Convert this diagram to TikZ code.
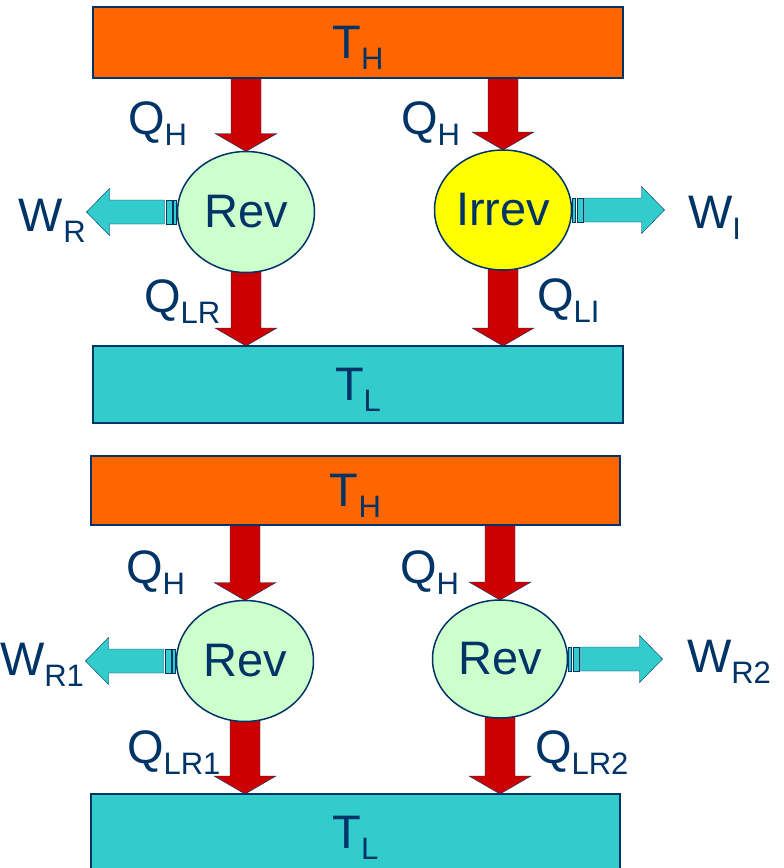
\documentclass[tikz,border=0pt]{standalone}
\usepackage{fontspec}
\setmainfont{Liberation Sans}
\usetikzlibrary{shapes.geometric,calc,backgrounds}
\definecolor{navy}{HTML}{003366}
\definecolor{hotfill}{HTML}{FF6600}
\definecolor{coldfill}{HTML}{33CCCC}
\definecolor{revfill}{HTML}{CCFFCC}
\definecolor{irrfill}{HTML}{FFFF00}
\definecolor{heatred}{HTML}{CC0000}
\newcommand\tsub[2]{#1\smash{\raisebox{-11pt}{\fontsize{31}{31}\selectfont #2}}}
\newcommand\heatflow[2]{%
  \draw[heat] ($(#1)+(-15,-8)$) -- ($(#1)+(15,-8)$) -- ($(#2)+(15,-18)$)
    -- ($(#2)+(31,-18)$) -- (#2) -- ($(#2)+(-31,-18)$) -- ($(#2)+(-15,-18)$) -- cycle;}
\newcommand\workflow[2]{%
  \draw[work, line width=1pt] ($(#1)!1pt!(#2)+(0,-12)$) rectangle ($(#1)!4pt!(#2)+(0,12)$);
  \draw[work, line width=1pt] ($(#1)!5.5pt!(#2)+(0,-12)$) rectangle ($(#1)!11.5pt!(#2)+(0,12)$);
  \draw[work] ($(#1)!13pt!(#2)+(0,-12)$) -- ($(#2)!23pt!(#1)+(0,-12)$)
    -- ($(#2)!23pt!(#1)+(0,-23.5)$) -- (#2) -- ($(#2)!23pt!(#1)+(0,23.5)$)
    -- ($(#2)!23pt!(#1)+(0,12)$) -- ($(#1)!13pt!(#2)+(0,12)$) -- cycle;}
\tikzset{
    hotres/.style={rectangle, draw=navy, fill=hotfill, minimum width=530, minimum height=71},
    coldres/.style={rectangle, draw=navy, fill=coldfill, minimum width=530, minimum height=77},
    engine/.style={ellipse, draw=navy, fill=revfill, minimum width=137, minimum height=121},
    heat/.style={draw=navy, fill=heatred},
    work/.style={draw=navy, fill=coldfill},
    lbl/.style={anchor=base west}
}

\begin{document}
\begin{tikzpicture}
  [
    x                 = 1pt,
    y                 = -1pt,
    line width        = 1.5pt,
    every node/.style = {inner sep=0, outer sep=0, text=navy, font=\fontsize{47}{56}\selectfont},
  ]
  \useasboundingbox (0,0) rectangle (784,868);
  % reversible against irreversible
  \node [hotres] (th1) at (358,42.5) {\tsub{T}{H}};
  \node [coldres] (tl1) at (358,384.5) {\tsub{T}{L}};
  \node [engine] (rev1) at (246,212) {Rev};
  \node [engine, fill=irrfill, minimum height=120] (irr) at (503,210) {Irrev};
  \node [lbl] (qh1) at (128,134) {\tsub{Q}{H}};
  \node [lbl] (qh2) at (401,134) {\tsub{Q}{H}};
  \node [lbl] (qlr) at (144,312) {\tsub{Q}{LR}};
  \node [lbl] (qli) at (537,311) {\tsub{Q}{LI}};
  \node [lbl] (wr) at (19,231) {\tsub{W}{R}};
  \node [lbl] (wi) at (688,228) {\tsub{W}{I}};
  % two reversible engines
  \node [hotres, minimum width=529, minimum height=69] (th2) at (355.5,490.5) {\tsub{T}{H}};
  \node [coldres, minimum width=529] (tl2) at (355.5,832.5) {\tsub{T}{L}};
  \node [engine] (rev2) at (245,661) {Rev};
  \node [engine, minimum width=135, minimum height=118] (rev3) at (500,659) {Rev};
  \node [lbl] (qh3) at (126,583) {\tsub{Q}{H}};
  \node [lbl] (qh4) at (400,583) {\tsub{Q}{H}};
  \node [lbl] (qlr1) at (127,763) {\tsub{Q}{LR1}};
  \node [lbl] (qlr2) at (535,763) {\tsub{Q}{LR2}};
  \node [lbl] (wr1) at (0,675) {\tsub{W}{R1}};
  \node [lbl] (wr2) at (687,672) {\tsub{W}{R2}};

  \coordinate (a1) at (th1.south -| rev1.north);
  \coordinate (a2) at (th1.south -| irr.north);
  \coordinate (a3) at (tl1.north -| rev1.south);
  \coordinate (a4) at (tl1.north -| irr.south);
  \coordinate (a5) at (th2.south -| rev2.north);
  \coordinate (a6) at (th2.south -| rev3.north);
  \coordinate (a7) at (tl2.north -| rev2.south);
  \coordinate (a8) at (tl2.north -| rev3.south);
  \coordinate (b1) at ($(rev1.west)+(-91,0)$);
  \coordinate (b2) at ($(irr.east)+(93,0)$);
  \coordinate (b3) at ($(rev2.west)+(-91,0)$);
  \coordinate (b4) at ($(rev3.east)+(95,0)$);

  \begin{scope}[on background layer]
    \heatflow{a1}{rev1.north}
    \heatflow{a2}{irr.north}
    \heatflow{rev1.south}{a3}
    \heatflow{irr.south}{a4}
    \heatflow{a5}{rev2.north}
    \heatflow{a6}{rev3.north}
    \heatflow{rev2.south}{a7}
    \heatflow{rev3.south}{a8}
    \workflow{rev1.west}{b1}
    \workflow{irr.east}{b2}
    \workflow{rev2.west}{b3}
    \workflow{rev3.east}{b4}
  \end{scope}
\end{tikzpicture}
\end{document}
